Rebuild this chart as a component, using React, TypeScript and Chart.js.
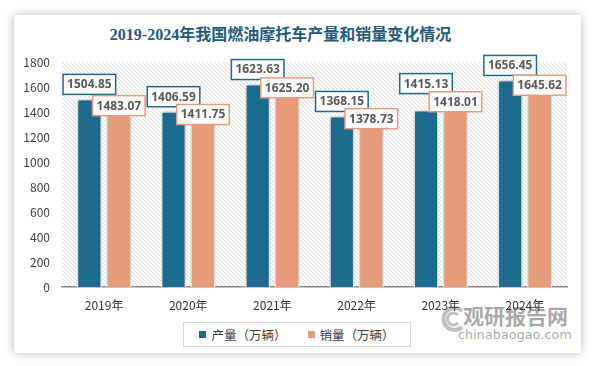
import React, { useEffect, useRef } from "react";
import { Chart, registerables } from "chart.js";

Chart.register(...registerables);

const titleText = "2019-2024年我国燃油摩托车产量和销量变化情况";
const categories = ["2019年", "2020年", "2021年", "2022年", "2023年", "2024年"];
const production = [1504.85, 1406.59, 1623.63, 1368.15, 1415.13, 1656.45];
const sales = [1483.07, 1411.75, 1625.2, 1378.73, 1418.01, 1645.62];
const seriesNames = ["产量（万辆）", "销量（万辆）"];
const yTicks = [0, 200, 400, 600, 800, 1000, 1200, 1400, 1600, 1800];

const BLUE = "#1c6a8e";
const ORANGE = "#e89b7b";
const FONT = "'Noto Sans CJK SC', 'Noto Sans', sans-serif";
// extra upward shift of the value boxes for crowded categories (label layout only)
const labelLift = [0, 0, 0, 0, 12, 0];

function makeHatch(ctx: CanvasRenderingContext2D) {
  const c = document.createElement("canvas");
  c.width = 4;
  c.height = 4;
  const g = c.getContext("2d")!;
  g.fillStyle = "#ffffff";
  g.fillRect(0, 0, 4, 4);
  g.fillStyle = "#dedede";
  for (let i = 0; i < 4; i++) g.fillRect(i, i, 1, 1);
  return ctx.createPattern(c, "repeat");
}

const hatchPlugin = {
  id: "hatchBg",
  beforeDraw(chart: any) {
    const { ctx, chartArea } = chart;
    const p = makeHatch(ctx);
    ctx.save();
    ctx.fillStyle = p || "#eee";
    ctx.fillRect(chartArea.left, chartArea.top, chartArea.right - chartArea.left, chartArea.bottom - chartArea.top);
    ctx.restore();
  },
};

const shadowPlugin = {
  id: "barShadow",
  beforeDatasetDraw(chart: any) {
    const ctx = chart.ctx;
    ctx.save();
    ctx.shadowColor = "rgba(0,0,0,0.35)";
    ctx.shadowBlur = 6;
    ctx.shadowOffsetX = 0;
    ctx.shadowOffsetY = 0;
  },
  afterDatasetDraw(chart: any) {
    chart.ctx.restore();
  },
};

const labelPlugin = {
  id: "valueBoxes",
  afterDatasetsDraw(chart: any) {
    const ctx = chart.ctx;
    ctx.save();
    ctx.font = "bold 12px 'Open Sans', sans-serif";
    ctx.textAlign = "center";
    ctx.textBaseline = "middle";
    chart.data.datasets.forEach((ds: any, di: number) => {
      const meta = chart.getDatasetMeta(di);
      meta.data.forEach((el: any, i: number) => {
        const v = ds.data[i] as number;
        const txt = v.toFixed(2);
        const w = ctx.measureText(txt).width + 8;
        const h = 20;
        const cy = (di === 0 ? el.y - 14.5 : el.y + 4) - labelLift[i];
        const x = el.x - w / 2;
        const y = cy - h / 2;
        ctx.fillStyle = "#ffffff";
        ctx.fillRect(x, y, w, h);
        ctx.strokeStyle = ds.backgroundColor;
        ctx.lineWidth = 1.5;
        ctx.strokeRect(x, y, w, h);
        ctx.fillStyle = "#595959";
        ctx.fillText(txt, el.x, cy + 0.5);
      });
    });
    ctx.restore();
  },
};

export default function App() {
  const ref = useRef<HTMLCanvasElement | null>(null);

  useEffect(() => {
    if (!ref.current) return;
    const chart = new Chart(ref.current, {
      type: "bar",
      data: {
        labels: categories,
        datasets: [
          {
            label: seriesNames[0],
            data: production,
            backgroundColor: BLUE,
            borderColor: "#ffffff",
            borderWidth: 1.5,
            categoryPercentage: 0.7,
            barPercentage: 0.85,
          },
          {
            label: seriesNames[1],
            data: sales,
            backgroundColor: ORANGE,
            borderColor: "#ffffff",
            borderWidth: 1.5,
            categoryPercentage: 0.7,
            barPercentage: 0.85,
          },
        ],
      },
      options: {
        responsive: false,
        animation: false,
        layout: { padding: { top: 62, right: 27, bottom: 49, left: 0 } },
        plugins: {
          legend: { display: false },
          title: { display: false },
          tooltip: { enabled: false },
        },
        scales: {
          x: {
            grid: { display: false, drawTicks: false },
            border: { display: true, color: "#8c8c8c", width: 1.5 },
            ticks: { padding: 11, color: "#333333", font: { size: 12, family: FONT } },
            afterFit: (s: any) => {
              s.height = 30;
            },
          },
          y: {
            min: 0,
            max: 1800,
            grid: { display: false, drawTicks: false },
            border: { display: false },
            ticks: {
              padding: 12,
              color: "#404040",
              font: { size: 12, family: FONT },
              callback: (v: any) => String(v),
            },
            afterBuildTicks: (s: any) => {
              s.ticks = yTicks.map((v) => ({ value: v }));
            },
            afterFit: (s: any) => {
              s.width = 62;
            },
          },
        },
      },
      plugins: [hatchPlugin, shadowPlugin, labelPlugin],
    });
    return () => chart.destroy();
  }, []);

  const colors = [BLUE, ORANGE];

  return (
    <div style={{ position: "absolute", left: 0, top: 0, width: 594, height: 366, background: "#ffffff", overflow: "hidden" }}>
      <div
        style={{
          position: "absolute",
          left: 14,
          top: 15,
          width: 567,
          height: 338,
          background: "#ffffff",
          boxShadow: "0 0 9px rgba(0,0,0,0.28)",
        }}
      />
      <div
        style={{
          position: "absolute",
          left: 0,
          top: 25,
          width: 561,
          textAlign: "center",
          fontFamily: "'Liberation Serif', 'Noto Sans CJK SC', serif",
          fontWeight: "bold",
          fontSize: 16,
          lineHeight: "20px",
          color: "#1f5b7b",
        }}
      >
        {titleText}
      </div>
      <div style={{ position: "absolute", left: 440, top: 300, width: 140, height: 45, color: "rgba(140,140,140,0.75)" }}>
        <svg width="26" height="30" style={{ position: "absolute", left: 0, top: 3 }} viewBox="0 0 26 30">
          <path d="M22 8 A11 11 0 1 0 22 24" fill="none" stroke="rgba(150,150,150,0.6)" strokeWidth="4" />
          <path d="M18 12 A6 6 0 1 0 18 20" fill="none" stroke="rgba(150,150,150,0.6)" strokeWidth="3" />
        </svg>
        <div style={{ position: "absolute", left: 23, top: 3, fontFamily: FONT, fontWeight: "bold", fontSize: 21, lineHeight: "24px", letterSpacing: 0 }}>
          观研报告网
        </div>
        <div style={{ position: "absolute", left: 18, top: 27, fontFamily: "'DejaVu Sans', sans-serif", fontSize: 12.5, lineHeight: "16px", letterSpacing: 0.2 }}>
          chinabaogao.com
        </div>
      </div>
      <canvas ref={ref} width={594} height={366} style={{ position: "absolute", left: 0, top: 0 }} />
      <div
        style={{
          position: "absolute",
          left: 183,
          top: 322,
          width: 226,
          height: 23,
          border: "1px solid #d9d9d9",
          display: "flex",
          alignItems: "center",
          justifyContent: "center",
          fontFamily: FONT,
          fontSize: 12.5,
          color: "#404040",
          background: "#ffffff",
        }}
      >
        {seriesNames.map((n, i) => (
          <div key={n} style={{ display: "flex", alignItems: "center", marginLeft: i === 0 ? 0 : 21 }}>
            <span style={{ display: "inline-block", width: 7, height: 7, background: colors[i], marginRight: 5 }} />
            <span>{n}</span>
          </div>
        ))}
      </div>
    </div>
  );
}
